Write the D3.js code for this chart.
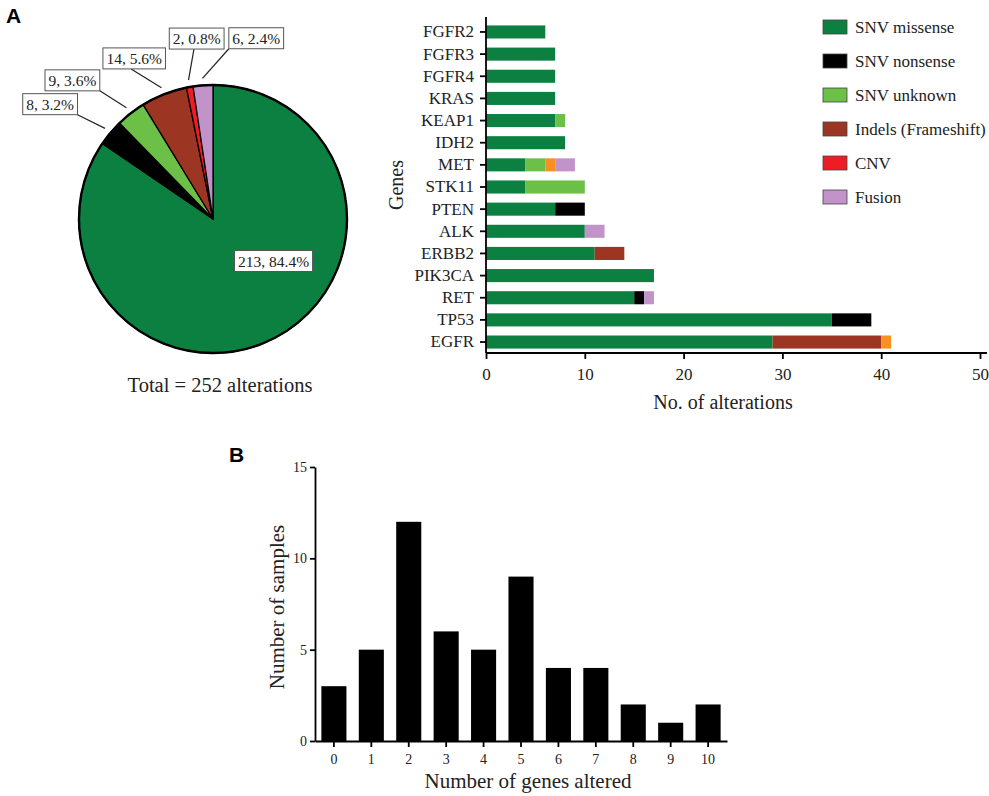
<!DOCTYPE html>
<html>
<head>
<meta charset="utf-8">
<script src="https://cdn.jsdelivr.net/npm/d3@7"></script>
<style>
  body { margin: 0; background: #fff; }
  svg text { font-family: "Liberation Serif", "Times New Roman", serif; fill: #222; }
  .panel { font-family: "Liberation Sans", Arial, sans-serif !important; font-weight: bold; fill: #000 !important; }
  .axis path, .axis line { stroke: #000; stroke-width: 1.8; }
</style>
</head>
<body>
<div id="chart"></div>
<script>
var d3 = window.d3;

// ---- data ----
var alterTypes = ["SNV missense", "SNV nonsense", "SNV unknown", "Indels (Frameshift)", "CNV", "Fusion"];
var alterCounts = [213, 8, 9, 14, 2, 6];
var alterPercents = [84.4, 3.2, 3.6, 5.6, 0.8, 2.4];
var alterTotal = 252;

var genes = ["FGFR2", "FGFR3", "FGFR4", "KRAS", "KEAP1", "IDH2", "MET", "STK11",
             "PTEN", "ALK", "ERBB2", "PIK3CA", "RET", "TP53", "EGFR"];
var stackKeys = ["missense", "nonsense", "unknown", "indel", "other", "fusion"];
var missense = [6, 7, 7, 7, 7, 8, 4, 4, 7, 10, 11, 17, 15, 35, 29];
var nonsense = [0, 0, 0, 0, 0, 0, 0, 0, 3, 0, 0, 0, 1, 4, 0];
var unknown  = [0, 0, 0, 0, 1, 0, 2, 6, 0, 0, 0, 0, 0, 0, 0];
var indel    = [0, 0, 0, 0, 0, 0, 0, 0, 0, 0, 3, 0, 0, 0, 11];
var other    = [0, 0, 0, 0, 0, 0, 1, 0, 0, 0, 0, 0, 0, 0, 1];
var fusion   = [0, 0, 0, 0, 0, 0, 2, 0, 0, 2, 0, 0, 1, 0, 0];
var xTicksA = [0, 10, 20, 30, 40, 50];

var genesAltered = [0, 1, 2, 3, 4, 5, 6, 7, 8, 9, 10];
var sampleCounts = [3, 5, 12, 6, 5, 9, 4, 4, 2, 1, 2];
var yTicksB = [0, 5, 10, 15];

var typeColors = ["#0b8040", "#000000", "#6cbf47", "#9c3522", "#ee1d25", "#c293c9"];
var stackColors = ["#0b8040", "#000000", "#6cbf47", "#9c3522", "#f7901e", "#c293c9"];

var svg = d3.select("#chart").append("svg")
  .attr("width", 989).attr("height", 796);

svg.append("text").attr("class", "panel").attr("x", 6).attr("y", 23)
  .style("font-size", "21px").text("A");
svg.append("text").attr("class", "panel").attr("x", 229).attr("y", 462)
  .style("font-size", "21px").text("B");

// ---- pie ----
var cx = 213, cy = 219, R = 134;
var pieG = svg.append("g").attr("transform", "translate(" + cx + "," + cy + ")");
var arcs = d3.pie().sort(null)(alterCounts);
var arc = d3.arc().innerRadius(0).outerRadius(R);

pieG.selectAll("path.slice").data(arcs).enter().append("path")
  .attr("class", "slice")
  .attr("d", arc)
  .attr("fill", function(d, i) { return typeColors[i]; })
  .attr("stroke", "#000").attr("stroke-width", 1.3).attr("stroke-linejoin", "round");
pieG.append("circle").attr("r", R).attr("fill", "none")
  .attr("stroke", "#000").attr("stroke-width", 2.4);

function labelText(i) {
  return alterCounts[i] + ", " + alterPercents[i].toFixed(1) + "%";
}

var BOX_H = 21;
function textWidth(txt) {
  var t = svg.append("text").style("font-size", "15.5px").text(txt);
  var w = t.node().getComputedTextLength();
  t.remove();
  return w + 7;
}
function drawBox(g, bx, by, w, txt) {
  g.append("rect").attr("x", bx).attr("y", by).attr("width", w).attr("height", BOX_H)
    .attr("fill", "#fff").attr("stroke", "#555").attr("stroke-width", 1);
  g.append("text").attr("x", bx + w / 2).attr("y", by + BOX_H / 2 + 5.5)
    .attr("text-anchor", "middle").style("font-size", "15.5px").text(txt);
}

// big slice label inside
(function() {
  var a = arcs[0];
  var ang = a.startAngle + (a.endAngle - a.startAngle) * 0.41;
  var rr = R * 0.55;
  var txt = labelText(0), w = textWidth(txt);
  drawBox(pieG.append("g"), Math.sin(ang) * rr - w / 2, -Math.cos(ang) * rr - BOX_H / 2, w, txt);
})();

// small slice labels outside with leader lines, spread so boxes do not overlap
var r1 = R + 7, r2 = R + 37;
var small = arcs.slice(1).map(function(a, k) {
  var txt = labelText(k + 1);
  return { i: k + 1, txt: txt, w: textWidth(txt),
           mid: (a.startAngle + a.endAngle) / 2 - 2 * Math.PI };
});
small.forEach(function(s) { s.pos = s.mid; });
function place(s) {
  var deg = s.pos * 180 / Math.PI;
  var fx = deg < -30 ? 1 : (deg > 3 ? 0 : 0.45);
  s.x2 = Math.sin(s.pos) * r2; s.y2 = -Math.cos(s.pos) * r2;
  s.bx = s.x2 - s.w * fx; s.by = s.y2 - BOX_H;
}
var step = 0.4 * Math.PI / 180;
for (var it = 0; it < 200; it++) {
  small.forEach(place);
  var moved = false;
  for (var k = 1; k < small.length; k++) {
    var a = small[k - 1], b = small[k];
    var overlap = a.bx < b.bx + b.w + 3 && b.bx < a.bx + a.w + 3 &&
                  a.by < b.by + BOX_H + 2 && b.by < a.by + BOX_H + 2;
    if (overlap) { a.pos -= step; b.pos += step; moved = true; }
  }
  if (!moved) break;
}
small.forEach(place);
small.forEach(function(s) {
  pieG.append("line")
    .attr("x1", Math.sin(s.mid) * r1).attr("y1", -Math.cos(s.mid) * r1)
    .attr("x2", s.x2).attr("y2", s.y2)
    .attr("stroke", "#222").attr("stroke-width", 1.2);
  drawBox(pieG.append("g"), s.bx, s.by, s.w, s.txt);
});

svg.append("text").attr("x", 220).attr("y", 392).attr("text-anchor", "middle")
  .style("font-size", "20.5px").text("Total = " + alterTotal + " alterations");

// ---- stacked bar chart ----
var rows = genes.map(function(g, i) {
  return { gene: g, missense: missense[i], nonsense: nonsense[i], unknown: unknown[i],
           indel: indel[i], other: other[i], fusion: fusion[i] };
});
var xA = d3.scaleLinear().domain([0, 50]).range([486, 980]);
var yA = d3.scaleBand().domain(genes).range([21, 353]).paddingInner(0.41).paddingOuter(0.2);
var series = d3.stack().keys(stackKeys)(rows);

svg.append("g").selectAll("g").data(series).enter().append("g")
  .attr("fill", function(d, i) { return stackColors[i]; })
  .selectAll("rect").data(function(d) { return d; }).enter().append("rect")
  .attr("x", function(d) { return xA(d[0]); })
  .attr("width", function(d) { return xA(d[1]) - xA(d[0]); })
  .attr("y", function(d) { return yA(d.data.gene); })
  .attr("height", yA.bandwidth());

var xAxisA = svg.append("g").attr("class", "axis")
  .attr("transform", "translate(0,353)")
  .call(d3.axisBottom(xA).tickValues(xTicksA).tickSize(6).tickPadding(9).tickSizeOuter(0));
xAxisA.select(".domain").attr("d", "M" + xA(0) + ",0H" + (xA(50) + 7));
xAxisA.selectAll("text").style("font-size", "17px").attr("fill", "#222");

var yAxisA = svg.append("g").attr("class", "axis")
  .attr("transform", "translate(486,0)")
  .call(d3.axisLeft(yA).tickSize(6).tickPadding(6).tickSizeOuter(0));
yAxisA.select(".domain").attr("d", "M0,17V353");
yAxisA.selectAll("text").style("font-size", "17px").attr("fill", "#222");

svg.append("text").attr("x", 723).attr("y", 409).attr("text-anchor", "middle")
  .style("font-size", "20px").text("No. of alterations");
svg.append("text").attr("transform", "translate(403,185) rotate(-90)")
  .attr("text-anchor", "middle").style("font-size", "20px").text("Genes");

// legend
var leg = svg.append("g").selectAll("g").data(alterTypes).enter().append("g")
  .attr("transform", function(d, i) { return "translate(823," + (20 + i * 34) + ")"; });
leg.append("rect").attr("width", 24).attr("height", 14)
  .attr("fill", function(d, i) { return typeColors[i]; })
  .attr("stroke", "#444").attr("stroke-width", 0.8);
leg.append("text").attr("x", 32).attr("y", 13).style("font-size", "17px")
  .text(function(d) { return d; });

// ---- panel B histogram ----
var xB = d3.scaleBand().domain(genesAltered).range([315, 727]).paddingInner(0.33).paddingOuter(0.17);
var yB = d3.scaleLinear().domain([0, 15]).range([741, 467]);

svg.append("g").selectAll("rect").data(sampleCounts).enter().append("rect")
  .attr("x", function(d, i) { return xB(genesAltered[i]); })
  .attr("width", xB.bandwidth())
  .attr("y", function(d) { return yB(d); })
  .attr("height", function(d) { return yB(0) - yB(d); })
  .attr("fill", "#000");

var xAxisB = svg.append("g").attr("class", "axis")
  .attr("transform", "translate(0,741)")
  .call(d3.axisBottom(xB).tickSize(6).tickPadding(7).tickSizeOuter(0));
xAxisB.selectAll("text").style("font-size", "14px").attr("fill", "#333");

var yAxisB = svg.append("g").attr("class", "axis")
  .attr("transform", "translate(315,0)")
  .call(d3.axisLeft(yB).tickValues(yTicksB).tickSize(5).tickPadding(3).tickSizeOuter(0));
yAxisB.selectAll("text").style("font-size", "14px").attr("fill", "#444");

svg.append("text").attr("x", 528).attr("y", 788).attr("text-anchor", "middle")
  .style("font-size", "21px").text("Number of genes altered");
svg.append("text").attr("transform", "translate(284,607) rotate(-90)")
  .attr("text-anchor", "middle").style("font-size", "21px").text("Number of samples");
</script>
</body>
</html>
